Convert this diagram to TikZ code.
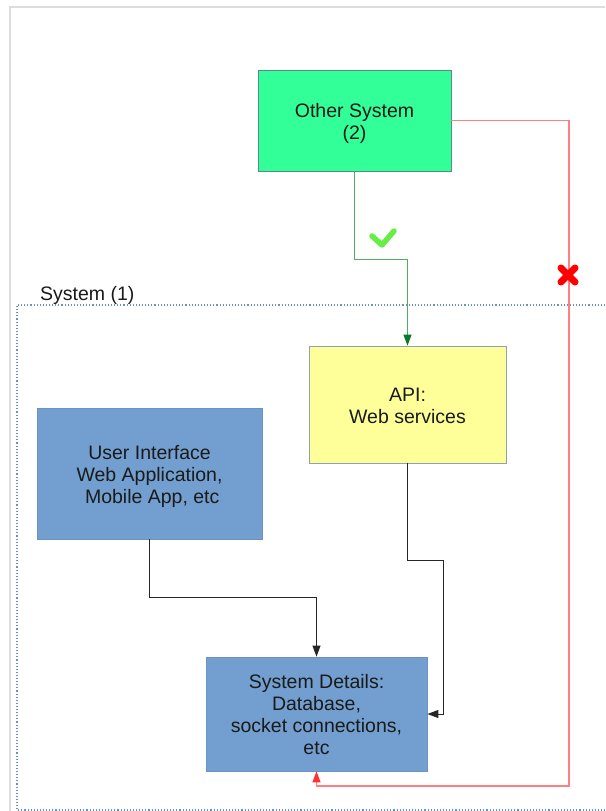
\documentclass[tikz,border=0pt]{standalone}
\usepackage{fontspec}
\setmainfont{Liberation Sans}
\usetikzlibrary{arrows.meta}
\definecolor{framegray}{HTML}{DDDDDD}
\definecolor{sysdot}{HTML}{6C8FC6}
\definecolor{othfill}{HTML}{33FF99}
\definecolor{othdraw}{HTML}{5A8A8A}
\definecolor{apifill}{HTML}{FFFF99}
\definecolor{apidraw}{HTML}{8FA0B0}
\definecolor{bluefill}{HTML}{729FCF}
\definecolor{bluedraw}{HTML}{6A93C4}
\definecolor{gline}{HTML}{4FAE60}
\definecolor{gtip}{HTML}{0A7A2A}
\definecolor{rline}{HTML}{FF8080}
\definecolor{rtip}{HTML}{FF3030}
\definecolor{checkg}{HTML}{66EE44}
\definecolor{txt}{HTML}{1A1A1A}
\newcommand{\boxtext}[1]{\raisebox{-3.5pt}[\height][\depth]{\begin{tabular}{@{}c@{}}#1\end{tabular}}}
\begin{document}
\begin{tikzpicture}[x=1pt,y=-1pt,
  box/.style={draw, line width=0.8pt, align=center, inner sep=0pt, text=txt,
    font=\fontsize{19.5}{22}\selectfont},
  conn/.style={line width=1.2pt},
  tip/.style={-{Triangle[length=11pt,width=8pt]}}]
\useasboundingbox[fill=white] (0,0) rectangle (605,811);
% page frame
\draw[framegray, line width=2pt] (10,811) -- (10,7) -- (605,7);
% system region
\draw[sysdot, line width=1.1pt, dotted] (605,305) -- (17,305) -- (17,810) -- (605,810);
\node[anchor=west, inner sep=0pt, text=txt, font=\fontsize{19.5}{22}\selectfont] (syslabel) at (40,295) {System (1)};
% boxes
\node[box, fill=othfill, draw=othdraw, minimum width=193pt, minimum height=101pt] (other) at (354.5,120.5) {\boxtext{Other System\\(2)}};
\node[box, fill=apifill, draw=apidraw, minimum width=197pt, minimum height=117pt] (api) at (407.5,404.5) {\boxtext{API:\\Web services}};
\node[box, fill=bluefill, draw=bluedraw, minimum width=225pt, minimum height=131pt] (ui) at (149.5,473.5) {\boxtext{User Interface\\Web Application,\\\ Mobile App, etc}};
\node[box, fill=bluefill, draw=bluedraw, minimum width=221pt, minimum height=114pt] (sd) at (316.5,714) {\boxtext{System Details:\\Database,\\socket connections,\\etc}};
% connectors
\draw[conn, gline, -{Triangle[length=11pt,width=8pt,color=gtip]}] (other.south) -- ++(0,88) -| (api.north);
\coordinate (r1) at (569,786);
\draw[conn, rline, -{Triangle[length=11pt,width=8pt,color=rtip]}] (other.east) -| (r1) -| (sd.south);
\draw[line width=1pt, black!85, tip] (ui.south) -- ++(0,58) -| (sd.north);
\coordinate (k1) at (443,560);
\draw[line width=1pt, black!85, tip] (api.south) |- (k1) |- (sd.east);
% check mark
\draw[checkg, line width=5.5pt, line cap=round, line join=round] (372,236) -- (382,245) -- (394,231);
% red cross
\draw[red, line width=7pt, line cap=round] (561,268) -- (575,282) (575,268) -- (561,282);
\end{tikzpicture}
\end{document}
